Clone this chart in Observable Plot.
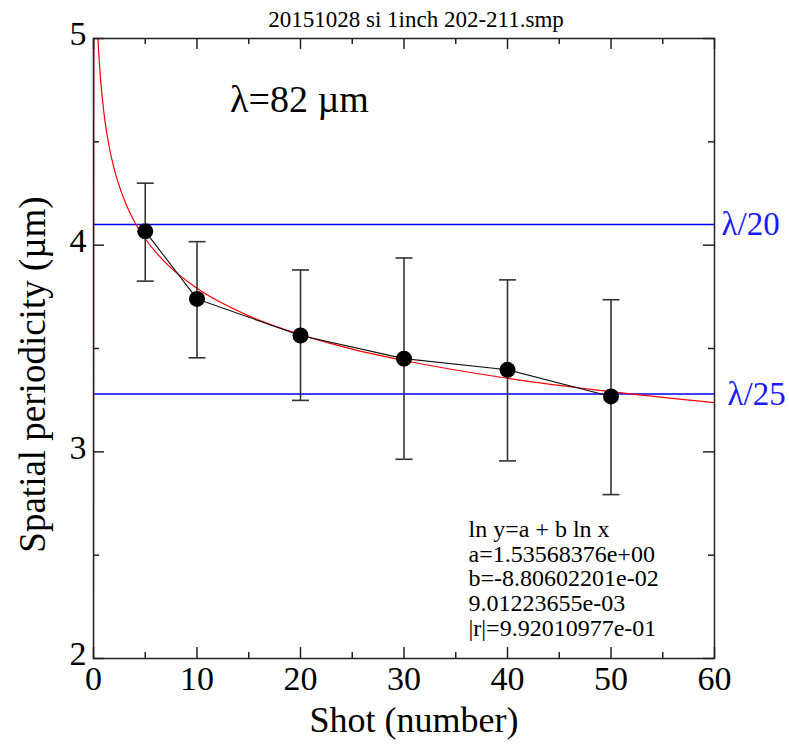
<!DOCTYPE html>
<html><head><meta charset="utf-8">
<script src="https://cdn.jsdelivr.net/npm/d3@7"></script>
<script src="https://cdn.jsdelivr.net/npm/@observablehq/plot@0.6"></script>
<style>body{margin:0;background:#fff} svg{display:block}</style>
</head><body><div id="chart"></div>
<script>
// ---- data ----
const shots = [5, 10, 20, 30, 40, 50];
const periodicity = [4.067, 3.740, 3.563, 3.451, 3.397, 3.268];
const errHigh = [4.300, 4.017, 3.880, 3.938, 3.832, 3.736];
const errLow = [3.826, 3.455, 3.249, 2.964, 2.956, 2.793];
// fitted curve (red)
const fitX = [0, 0.05, 0.43, 0.6, 1, 1.5, 2, 3, 4, 5, 7, 10, 15, 20, 25, 30, 40, 50, 60];
const fitY = [2, 5.6, 5.0, 4.858, 4.644, 4.481, 4.369, 4.216, 4.110, 4.031, 3.913, 3.791, 3.658, 3.567, 3.497, 3.442, 3.356, 3.291, 3.238];
const refLevels = [4.1, 3.28];
const refSymbol = ["λ", "λ"];
const refDivisor = ["/20", "/25"];
const xTicks = [0, 10, 20, 30, 40, 50, 60];
const xMinor = [5, 15, 25, 35, 45, 55];
const yTicks = [2, 3, 4, 5];
const yMinor = [2.5, 3.5, 4.5];
const titleText = "20151028 si 1inch 202-211.smp";
const xLabel = "Shot (number)";
const yLabel = "Spatial periodicity (µm)";
const annotationParts = ["λ", "=82 µm"];
const fitText = ["ln y=a + b ln x", "a=1.53568376e+00", "b=-8.80602201e-02", "9.01223655e-03", "|r|=9.92010977e-01"];

// ---- build tables ----
const points = shots.map((x, i) => ({x, y: periodicity[i], lo: errLow[i], hi: errHigh[i]}));
const fit = fitX.map((x, i) => ({x, y: fitY[i]}));
const refs = refLevels.map((y, i) => ({y, sym: refSymbol[i], div: refDivisor[i]}));

const W = 789, H = 747;
const mL = 93, mR = 75, mT = 38, mB = 89;
const innerW = W - mL - mR, innerH = H - mT - mB;
const font = "Liberation Serif, Times New Roman, serif";
const greekFont = "Liberation Serif, DejaVu Serif, serif";
const majorLen = 11, minorLen = 6;
const blue = "#1a1aff";

const capSymbol = {
  draw(ctx, size) {
    const r = Math.sqrt(size / Math.PI);
    ctx.moveTo(-r, 0);
    ctx.lineTo(r, 0);
  }
};

const tickStyle = {stroke: "#222", strokeWidth: 1.5};

const chart = Plot.plot({
  width: W, height: H,
  marginLeft: mL, marginRight: mR, marginTop: mT, marginBottom: mB,
  x: {domain: [0, 60], axis: null},
  y: {domain: [2, 5], axis: null},
  style: {fontFamily: font, background: "#fff"},
  marks: [
    // reference lines
    Plot.ruleY(refs, {y: "y", stroke: "#0000ff", strokeWidth: 1.6}),
    // fit curve
    Plot.line(fit, {x: "x", y: "y", stroke: "#ff0000", strokeWidth: 1.2, clip: true, curve: "monotone-x"}),
    // connecting line
    Plot.line(points, {x: "x", y: "y", stroke: "#111", strokeWidth: 1.1}),
    // error bars
    Plot.ruleX(points, {x: "x", y1: "lo", y2: "hi", stroke: "#333", strokeWidth: 1.6}),
    Plot.dot(points, {x: "x", y: "hi", symbol: capSymbol, r: 8.5, stroke: "#333", strokeWidth: 1.6, fill: "none"}),
    Plot.dot(points, {x: "x", y: "lo", symbol: capSymbol, r: 8.5, stroke: "#333", strokeWidth: 1.6, fill: "none"}),
    // markers
    Plot.dot(points, {x: "x", y: "y", r: 8, fill: "#000", stroke: "none"}),
    // inward ticks: bottom / top
    Plot.tickX(xTicks, {x: d => d, insetTop: innerH - majorLen, ...tickStyle}),
    Plot.tickX(xMinor, {x: d => d, insetTop: innerH - minorLen, ...tickStyle}),
    Plot.tickX(xTicks, {x: d => d, insetBottom: innerH - majorLen, ...tickStyle}),
    Plot.tickX(xMinor, {x: d => d, insetBottom: innerH - minorLen, ...tickStyle}),
    // inward ticks: left / right
    Plot.tickY(yTicks, {y: d => d, insetRight: innerW - majorLen, ...tickStyle}),
    Plot.tickY(yMinor, {y: d => d, insetRight: innerW - minorLen, ...tickStyle}),
    Plot.tickY(yTicks, {y: d => d, insetLeft: innerW - majorLen, ...tickStyle}),
    Plot.tickY(yMinor, {y: d => d, insetLeft: innerW - minorLen, ...tickStyle}),
    Plot.frame({stroke: "#222", strokeWidth: 1.5}),
    // tick labels
    Plot.text(xTicks, {x: d => d, text: d => String(d), frameAnchor: "bottom", dy: 21, textAnchor: "middle", lineAnchor: "middle", fontSize: 34, fill: "#000"}),
    Plot.text(yTicks, {y: d => d, text: d => String(d), frameAnchor: "left", dx: -7, dy: -4, textAnchor: "end", lineAnchor: "middle", fontSize: 34, fill: "#000"}),
    // reference labels (λ drawn separately so the digits keep the serif face)
    Plot.text(refs.slice(0, 1), {y: "y", text: "sym", frameAnchor: "right", dx: 23, textAnchor: "end", lineAnchor: "middle", fontSize: 33, fill: blue, fontFamily: greekFont}),
    Plot.text(refs.slice(0, 1), {y: "y", text: "div", frameAnchor: "right", dx: 23, textAnchor: "start", lineAnchor: "middle", fontSize: 33, fill: blue}),
    Plot.text(refs.slice(1), {y: "y", text: "sym", frameAnchor: "right", dx: 29, textAnchor: "end", lineAnchor: "middle", fontSize: 33, fill: blue, fontFamily: greekFont}),
    Plot.text(refs.slice(1), {y: "y", text: "div", frameAnchor: "right", dx: 29, textAnchor: "start", lineAnchor: "middle", fontSize: 33, fill: blue}),
    // axis titles
    Plot.text([xLabel], {text: d => d, frameAnchor: "bottom", dx: 10, dy: 62, textAnchor: "middle", lineAnchor: "middle", fontSize: 36, fill: "#000"}),
    Plot.text([yLabel], {text: d => d, frameAnchor: "left", dx: -60, dy: 26, rotate: -90, textAnchor: "middle", lineAnchor: "middle", fontSize: 37, fill: "#000"}),
    // title
    Plot.text([titleText], {text: d => d, frameAnchor: "top", dx: 12, dy: -19, textAnchor: "middle", lineAnchor: "middle", fontSize: 23, fill: "#000"}),
    // annotations
    Plot.text([annotationParts[0]], {text: d => d, frameAnchor: "top-left", dx: 155, dy: 61, textAnchor: "end", lineAnchor: "middle", fontSize: 38, fill: "#000", fontFamily: greekFont}),
    Plot.text([annotationParts[1]], {text: d => d, frameAnchor: "top-left", dx: 155, dy: 61, textAnchor: "start", lineAnchor: "middle", fontSize: 38, fill: "#000"}),
    Plot.text([fitText.join("\n")], {text: d => d, frameAnchor: "top-left", dx: 375, dy: 540, textAnchor: "start", lineAnchor: "middle", lineHeight: 1.03, fontSize: 24, fill: "#000"})
  ]
});
document.getElementById("chart").appendChild(chart);
</script>
</body></html>
